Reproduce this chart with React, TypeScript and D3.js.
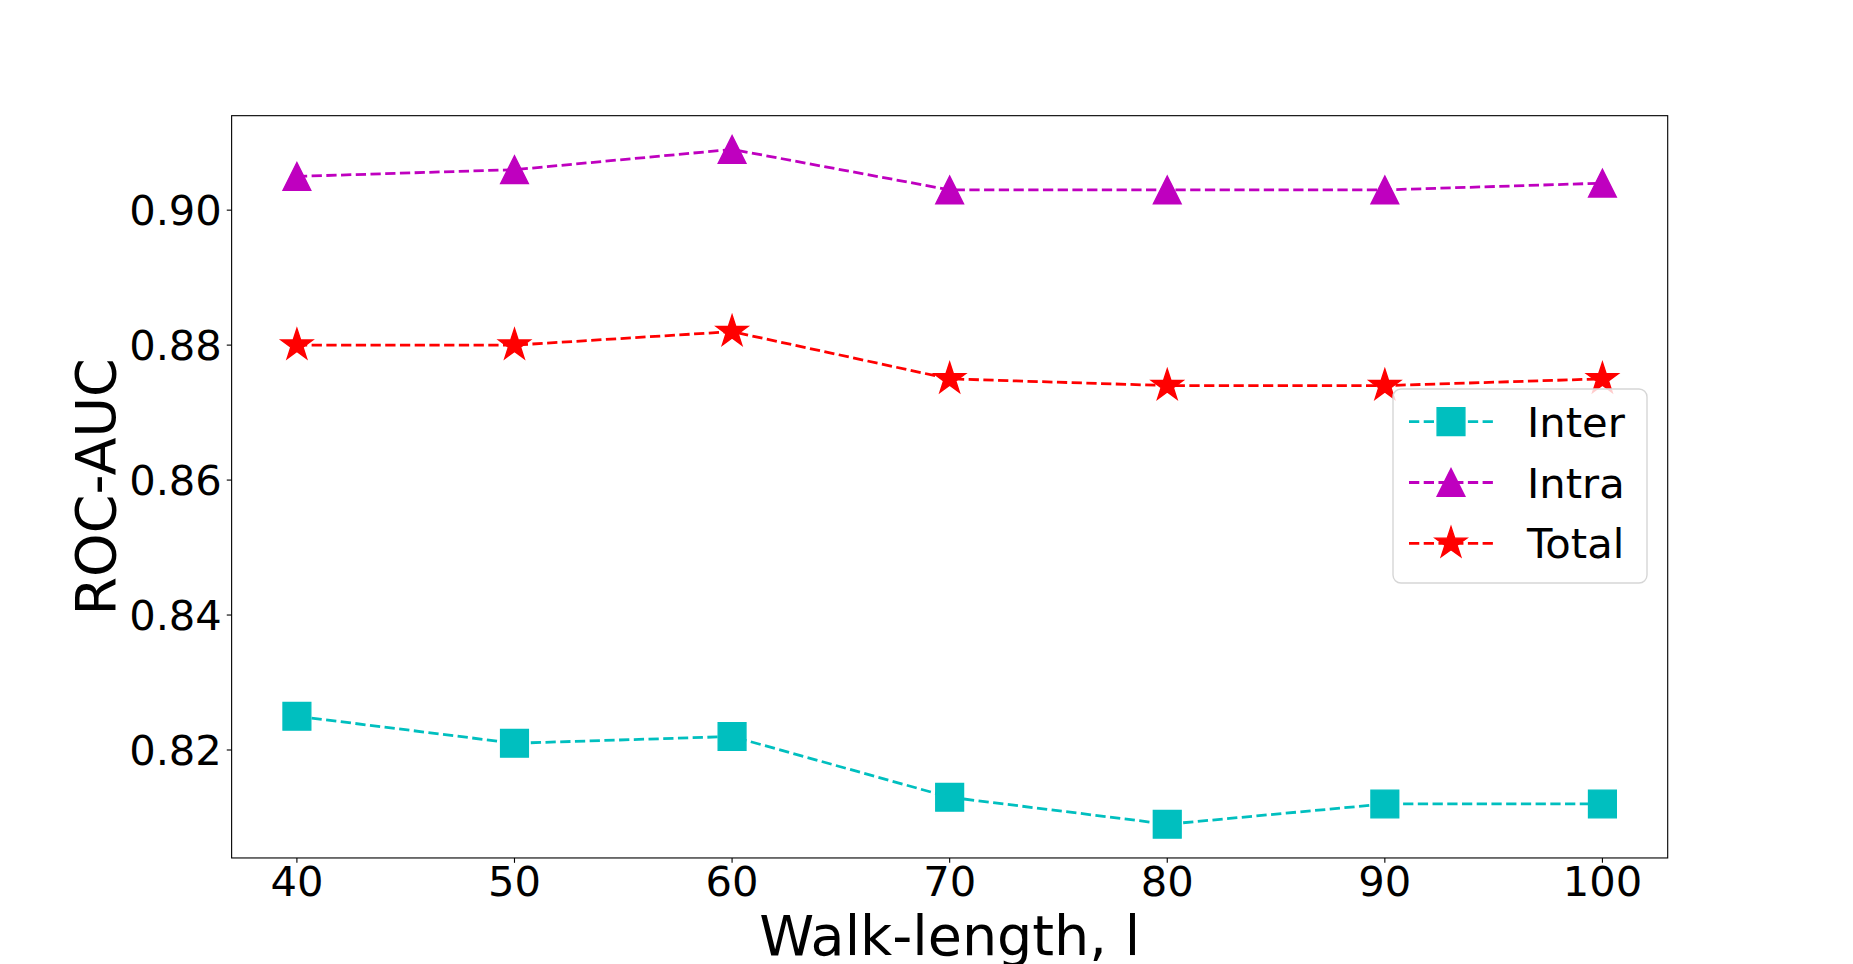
import React, { useEffect, useRef } from "react";
import * as d3 from "d3";

const walkLengths = [40, 50, 60, 70, 80, 90, 100];
const interValues = [0.825, 0.821, 0.822, 0.813, 0.809, 0.812, 0.812];
const intraValues = [0.905, 0.906, 0.909, 0.903, 0.903, 0.903, 0.904];
const totalValues = [0.88, 0.88, 0.882, 0.875, 0.874, 0.874, 0.875];
const yTicks = [0.82, 0.84, 0.86, 0.88, 0.9];
const xTicks = [40, 50, 60, 70, 80, 90, 100];
const seriesNames = ["Inter", "Intra", "Total"];

const W = 1853;
const H = 964;
const PX = 100 / 72; // pt -> px at dpi 100
const FONT = "DejaVu Sans";

// marker outlines, centred at (cx, cy), ms = marker size in px
function squarePath(cx: number, cy: number, ms: number) {
  const h = ms / 2;
  return `M${cx - h},${cy - h}H${cx + h}V${cy + h}H${cx - h}Z`;
}

function trianglePath(cx: number, cy: number, ms: number) {
  const h = ms / 2;
  return `M${cx},${cy - h}L${cx - h},${cy + h}L${cx + h},${cy + h}Z`;
}

function starPath(cx: number, cy: number, ms: number) {
  const R = ms / 2;
  const r = R * 0.381966;
  const pts: string[] = [];
  for (let i = 0; i < 10; i++) {
    const a = -Math.PI / 2 + (i * Math.PI) / 5;
    const rad = i % 2 === 0 ? R : r;
    pts.push(`${cx + rad * Math.cos(a)},${cy + rad * Math.sin(a)}`);
  }
  return "M" + pts.join("L") + "Z";
}

function drawChart(el: SVGSVGElement) {
  const svg = d3.select(el);
  svg.selectAll("*").remove();

  const left = W * 0.125,
    right = W * 0.9,
    top = H * 0.12,
    bottom = H * 0.89;

  const x = d3.scaleLinear().domain([37, 103]).range([left, right]);
  const y = d3.scaleLinear().domain([0.804, 0.914]).range([bottom, top]);

  const series = [
    { name: seriesNames[0], values: interValues, color: "#00bfbf", shape: squarePath, ms: 20 * PX },
    { name: seriesNames[1], values: intraValues, color: "#bf00bf", shape: trianglePath, ms: 20 * PX },
    { name: seriesNames[2], values: totalValues, color: "#ff0000", shape: starPath, ms: 24 * PX },
  ];

  const lw = 2 * PX;
  const dash = `${3.7 * lw},${1.6 * lw}`;

  svg.append("rect").attr("width", W).attr("height", H).attr("fill", "#ffffff");

  const line = d3
    .line<number>()
    .x((_, i) => x(walkLengths[i]))
    .y((d) => y(d));

  // series
  series.forEach((s) => {
    svg
      .append("path")
      .attr("d", line(s.values))
      .attr("fill", "none")
      .attr("stroke", s.color)
      .attr("stroke-width", lw)
      .attr("stroke-dasharray", dash);

    svg
      .selectAll(null)
      .data(s.values)
      .enter()
      .append("path")
      .attr("d", (d, i) => s.shape(x(walkLengths[i]), y(d), s.ms))
      .attr("fill", s.color)
      .attr("stroke", s.color)
      .attr("stroke-width", PX)
      .attr("stroke-linejoin", "miter");
  });

  // axes frame
  svg
    .append("rect")
    .attr("x", left)
    .attr("y", top)
    .attr("width", right - left)
    .attr("height", bottom - top)
    .attr("fill", "none")
    .attr("stroke", "#000")
    .attr("stroke-width", 0.8 * PX);

  const tickLen = 3.5 * PX;
  const tickFont = 30 * PX;

  // x ticks
  xTicks.forEach((t) => {
    svg
      .append("line")
      .attr("x1", x(t))
      .attr("x2", x(t))
      .attr("y1", bottom)
      .attr("y2", bottom + tickLen)
      .attr("stroke", "#000")
      .attr("stroke-width", 0.8 * PX);
    svg
      .append("text")
      .attr("x", x(t))
      .attr("y", bottom + 38)
      .attr("text-anchor", "middle")
      .attr("font-family", FONT)
      .attr("font-size", tickFont)
      .text(String(t));
  });

  // y ticks
  yTicks.forEach((t) => {
    svg
      .append("line")
      .attr("x1", left - tickLen)
      .attr("x2", left)
      .attr("y1", y(t))
      .attr("y2", y(t))
      .attr("stroke", "#000")
      .attr("stroke-width", 0.8 * PX);
    svg
      .append("text")
      .attr("x", left - 2 * tickLen)
      .attr("y", y(t) + 15)
      .attr("text-anchor", "end")
      .attr("font-family", FONT)
      .attr("font-size", tickFont)
      .text(d3.format(".2f")(t));
  });

  // axis labels
  const labelFont = 40 * PX;
  svg
    .append("text")
    .attr("x", (left + right) / 2)
    .attr("y", 955)
    .attr("text-anchor", "middle")
    .attr("font-family", FONT)
    .attr("font-size", labelFont)
    .text("Walk-length, l");

  svg
    .append("text")
    .attr("transform", `translate(115, ${(top + bottom) / 2}) rotate(-90)`)
    .attr("text-anchor", "middle")
    .attr("font-family", FONT)
    .attr("font-size", labelFont)
    .text("ROC-AUC");

  // legend
  const lg = svg.append("g");
  lg.append("rect")
    .attr("x", 1393)
    .attr("y", 389)
    .attr("width", 254)
    .attr("height", 194)
    .attr("rx", 8)
    .attr("ry", 8)
    .attr("fill", "#ffffff")
    .attr("fill-opacity", 0.8)
    .attr("stroke", "#d6d6d6")
    .attr("stroke-width", PX);

  const legendY = d3.scalePoint<string>().domain(seriesNames).range([421.7, 543.3]);

  series.forEach((s) => {
    const ly = legendY(s.name) as number;
    lg.append("line")
      .attr("x1", 1409)
      .attr("x2", 1493)
      .attr("y1", ly)
      .attr("y2", ly)
      .attr("stroke", s.color)
      .attr("stroke-width", lw)
      .attr("stroke-dasharray", dash);
    lg.append("path")
      .attr("d", s.shape(1451, ly, s.ms))
      .attr("fill", s.color)
      .attr("stroke", s.color)
      .attr("stroke-width", PX);
    lg.append("text")
      .attr("x", 1527)
      .attr("y", ly + 15)
      .attr("font-family", FONT)
      .attr("font-size", tickFont)
      .text(s.name);
  });
}

export default function App() {
  const ref = useRef<SVGSVGElement>(null);

  useEffect(() => {
    if (ref.current) drawChart(ref.current);
  }, []);

  return (
    <svg
      ref={ref}
      width={W}
      height={H}
      style={{ position: "absolute", left: 0, top: 0 }}
    />
  );
}
